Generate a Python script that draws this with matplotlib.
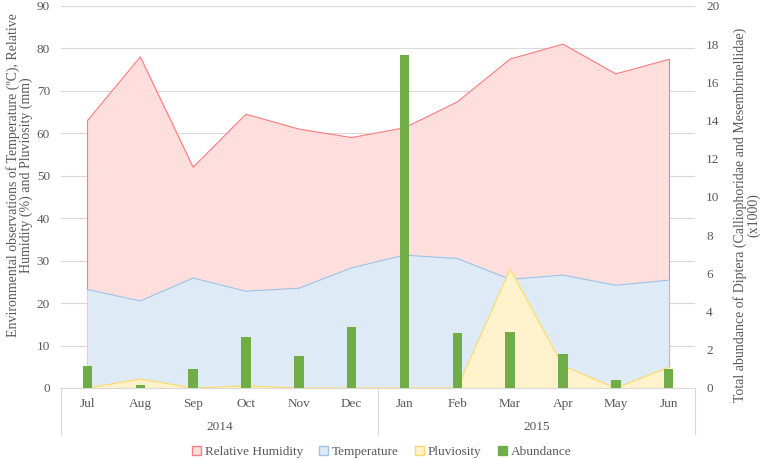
import matplotlib
matplotlib.use('Agg')
import matplotlib.pyplot as plt
from matplotlib.patches import Patch
from matplotlib.transforms import blended_transform_factory
import numpy as np

months = ['Jul', 'Aug', 'Sep', 'Oct', 'Nov', 'Dec', 'Jan', 'Feb', 'Mar', 'Apr', 'May', 'Jun']
years = ['2014', '2015']
humidity = [63, 78, 52, 64.5, 61, 59, 61.3, 67.4, 77.5, 81, 74, 77.4]
temperature = [23.2, 20.5, 25.9, 22.8, 23.5, 28.3, 31.3, 30.5, 25.6, 26.6, 24.2, 25.4]
pluviosity = [0, 2.1, 0, 0.5, 0, 0, 0, 0, 28, 5.2, 0, 4.9]
abundance = [1.15, 0.17, 1.0, 2.67, 1.67, 3.19, 17.43, 2.86, 2.91, 1.8, 0.42, 0.98]

TEXT = '#595959'
GRID = '#D9D9D9'
plt.rcParams['font.family'] = ['Liberation Serif', 'DejaVu Serif']

fig = plt.figure(figsize=(7.63, 4.59), dpi=100)
ax = fig.add_axes([0.080, 0.1547, 0.831, 0.8323])
x = np.arange(len(months))

# areas, drawn in series order
ax.fill_between(x, humidity, color='#FFDEDE', zorder=2)
ax.plot(x, humidity, color='#FF7C80', lw=0.8, zorder=2)
ax.plot([x[0], x[0]], [0, humidity[0]], color='#FF7C80', lw=0.8, zorder=2)
ax.plot([x[-1], x[-1]], [0, humidity[-1]], color='#FF7C80', lw=0.8, zorder=2)
ax.fill_between(x, temperature, color='#DEEBF7', zorder=3)
ax.plot(x, temperature, color='#9DC3E6', lw=0.8, zorder=3)
ax.plot([x[-1], x[-1]], [0, temperature[-1]], color='#9DC3E6', lw=0.8, zorder=3)
ax.fill_between(x, pluviosity, color='#FFF2CC', zorder=4)
ax.plot(x, pluviosity, color='#FFD966', lw=0.8, zorder=4)

ax.set_xlim(-0.5, 11.5)
ax.set_ylim(0, 90)
ax.set_yticks(range(0, 91, 10))
ax.yaxis.grid(True, color=GRID, lw=0.8, zorder=0)
ax.set_axisbelow(True)
for s in ax.spines.values():
    s.set_visible(False)
ax.tick_params(axis='both', length=0, colors=TEXT, labelsize=9.5)
ax.tick_params(axis='y', pad=8)
ax.set_xticks(x)
ax.set_xticklabels(months)
ax.tick_params(axis='x', pad=7)
ax.set_ylabel('Environmental observations of Temperature (ºC), Relative\nHumidity (%) and Pluviosity (mm)',
              color=TEXT, fontsize=10, linespacing=1.0)
ax.yaxis.set_label_coords(-0.044, 0.558)

# abundance bars on the secondary axis
ax2 = ax.twinx()
ax2.bar(x, abundance, width=0.18, color='#70AD47', zorder=5)
ax2.set_xlim(-0.5, 11.5)
ax2.set_ylim(0, 20)
ax2.set_yticks(range(0, 21, 2))
for s in ax2.spines.values():
    s.set_visible(False)
ax2.tick_params(axis='y', length=0, colors=TEXT, labelsize=9.5, pad=8)
ax2.set_ylabel('Total abundance of Diptera (Calliophoridae and Mesembrinellidae)\n(x1000)',
               color=TEXT, fontsize=10, linespacing=1.0)
ax2.yaxis.set_label_coords(1.060, 0.453)

# x axis line and the year grouping
ax.axhline(0, color=GRID, lw=0.8, zorder=6, clip_on=False)
trans = blended_transform_factory(ax.transData, ax.transAxes)
for xs in [-0.5, 5.5, 11.5]:
    ax.plot([xs, xs], [0, -0.121], color=GRID, lw=0.8, transform=trans, clip_on=False)
for i, yr in enumerate(years):
    ax.text(2.5 + 6 * i, -0.103, yr, transform=trans, ha='center', va='center',
            color=TEXT, fontsize=9.5)

handles = [Patch(facecolor='#FFDEDE', edgecolor='#FF7C80', label='Relative Humidity'),
           Patch(facecolor='#DEEBF7', edgecolor='#9DC3E6', label='Temperature'),
           Patch(facecolor='#FFF2CC', edgecolor='#FFD966', label='Pluviosity'),
           Patch(facecolor='#70AD47', edgecolor='#70AD47', label='Abundance')]
leg = fig.legend(handles=handles, loc='center', bbox_to_anchor=(0.5, 0.016), ncol=4, frameon=False,
                 fontsize=9.5, handlelength=0.7, handleheight=0.7, handletextpad=0.3, columnspacing=1.2)
for t in leg.get_texts():
    t.set_color(TEXT)

fig.savefig('out.png', dpi=100)
